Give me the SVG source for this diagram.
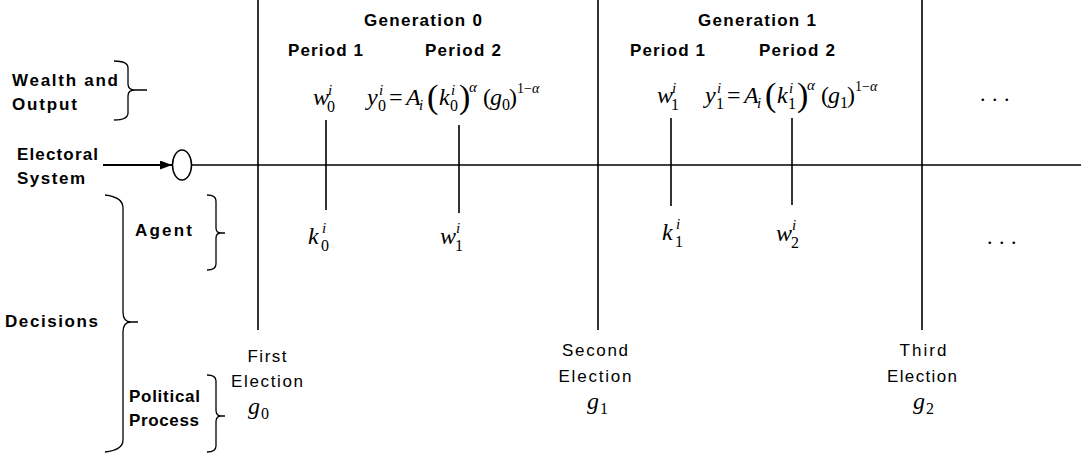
<svg xmlns="http://www.w3.org/2000/svg" width="1081" height="456" viewBox="0 0 1081 456">
<style>
.lab{font-family:"Liberation Sans",Arial,sans-serif;font-weight:bold;font-size:17px;fill:#000}
.reg{font-family:"Liberation Sans",Arial,sans-serif;font-size:17px;fill:#000}
.m{font-family:"Liberation Serif","Times New Roman",serif;font-style:italic;font-size:24px;fill:#000}
.mr{font-family:"Liberation Serif","Times New Roman",serif;font-size:24px;fill:#000}
.s{font-family:"Liberation Serif","Times New Roman",serif;font-style:italic;font-size:15px;fill:#000}
.sr{font-family:"Liberation Serif","Times New Roman",serif;font-size:16px;fill:#000}
.sp{font-family:"Liberation Serif","Times New Roman",serif;font-size:14px;fill:#000}
.big{font-family:"Liberation Serif","Times New Roman",serif;font-size:34px;fill:#000}
.ln{stroke:#000;stroke-width:1.6;fill:none}
.hl{stroke:#000;stroke-width:1.3;fill:none}
.br{stroke:#000;stroke-width:1.3;fill:none}
.dots{font-family:"Liberation Serif","Times New Roman",serif;font-size:22px;letter-spacing:6.5px;fill:#000}
</style>
<defs>
<marker id="ah" markerWidth="12" markerHeight="9" refX="12" refY="4.5" orient="auto" markerUnits="userSpaceOnUse">
<path d="M0,0 L12,4.5 L0,9 Z" fill="#000"/>
</marker>
</defs>

<g id="connectors">
<line class="ln" x1="258" y1="0" x2="258" y2="330"/>
<line class="ln" x1="598" y1="0" x2="598" y2="330"/>
<line class="ln" x1="922" y1="0" x2="922" y2="330"/>
<line class="hl" x1="191.5" y1="165" x2="1081" y2="165"/>
<line class="ln" x1="326" y1="120" x2="326" y2="210"/>
<line class="ln" x1="459" y1="125" x2="459" y2="213"/>
<line class="ln" x1="671" y1="118" x2="671" y2="206"/>
<line class="ln" x1="792" y1="118" x2="792" y2="205"/>
<line stroke="#000" stroke-width="2" x1="103" y1="165" x2="172" y2="165" marker-end="url(#ah)"/>
</g>

<g id="electoral-node">
<ellipse cx="182" cy="165" rx="9.5" ry="15" fill="#fff" stroke="#000" stroke-width="1.5"/>
</g>

<g id="headers">
<text class="lab" x="423" y="26" text-anchor="middle" textLength="118" lengthAdjust="spacing">Generation 0</text>
<text class="lab" x="757" y="26" text-anchor="middle" textLength="118" lengthAdjust="spacing">Generation 1</text>
<text class="lab" x="288" y="56" textLength="75" lengthAdjust="spacing">Period 1</text>
<text class="lab" x="425" y="56" textLength="76" lengthAdjust="spacing">Period 2</text>
<text class="lab" x="630" y="56" textLength="75" lengthAdjust="spacing">Period 1</text>
<text class="lab" x="759" y="56" textLength="76" lengthAdjust="spacing">Period 2</text>
</g>

<g id="wealth-label">
<text class="lab" x="12" y="86" textLength="106" lengthAdjust="spacing">Wealth and</text>
<text class="lab" x="12" y="110" textLength="65" lengthAdjust="spacing">Output</text>
<path class="br" d="M114,61 Q128,61 128,68 L128,84 Q128,90 135,90 L147,90 M135,90 Q128,90 128,96 L128,113 Q128,120 114,120"/>
</g>

<g id="electoral-label">
<text class="lab" x="17" y="160" textLength="81" lengthAdjust="spacing">Electoral</text>
<text class="lab" x="17" y="184" textLength="68" lengthAdjust="spacing">System</text>
</g>

<g id="decisions-label">
<text class="lab" x="5" y="327" textLength="93" lengthAdjust="spacing">Decisions</text>
<path class="br" d="M105,195 Q123,197 123,208 L123,312 Q123,322 131,322 L138,322 M131,322 Q123,322 123,332 L123,440 Q123,450 105,452"/>
</g>

<g id="agent-label">
<text class="lab" x="135" y="236" textLength="57" lengthAdjust="spacing">Agent</text>
<path class="br" d="M207,195 Q216,195 216,201 L216,228 Q216,233 221,233 L225,233 M221,233 Q216,233 216,238 L216,264 Q216,270 207,270"/>
</g>

<g id="political-label">
<text class="lab" x="129" y="402" textLength="71" lengthAdjust="spacing">Political</text>
<text class="lab" x="129" y="426" textLength="70" lengthAdjust="spacing">Process</text>
<path class="br" d="M207,375 Q216,375 216,381 L216,410 Q216,416 221,416 L225,416 M221,416 Q216,416 216,422 L216,446 Q216,452 207,452"/>
</g>

<g id="w0">
<text class="m" x="313" y="105">w</text>
<text class="s" x="328" y="95">i</text>
<text class="sr" x="327" y="112">0</text>
</g>

<g id="y0-formula" transform="translate(367,105)">
<text class="m" x="0" y="0">y</text>
<text class="s" x="12" y="-10">i</text>
<text class="sr" x="11" y="6">0</text>
<text class="mr" x="22" y="0">=</text>
<text class="m" x="39" y="0">A</text>
<text class="s" x="52" y="5">i</text>
<text class="big" x="60" y="3">(</text>
<text class="m" x="72" y="0">k</text>
<text class="s" x="84" y="-10">i</text>
<text class="sr" x="83" y="6">0</text>
<text class="big" x="92" y="3">)</text>
<text class="s" x="102" y="-13">α</text>
<text class="mr" x="116" y="0">(</text>
<text class="m" x="123" y="0">g</text>
<text class="sr" x="135" y="5">0</text>
<text class="mr" x="142" y="0">)</text>
<text class="sp" x="150" y="-12">1−<tspan font-style="italic">α</tspan></text>
</g>

<g id="w1">
<text class="m" x="657" y="103">w</text>
<text class="s" x="672" y="93">i</text>
<text class="sr" x="671" y="110">1</text>
</g>

<g id="y1-formula" transform="translate(705,103)">
<text class="m" x="0" y="0">y</text>
<text class="s" x="12" y="-10">i</text>
<text class="sr" x="11" y="6">1</text>
<text class="mr" x="22" y="0">=</text>
<text class="m" x="39" y="0">A</text>
<text class="s" x="52" y="5">i</text>
<text class="big" x="60" y="3">(</text>
<text class="m" x="72" y="0">k</text>
<text class="s" x="84" y="-10">i</text>
<text class="sr" x="83" y="6">1</text>
<text class="big" x="92" y="3">)</text>
<text class="s" x="102" y="-13">α</text>
<text class="mr" x="116" y="0">(</text>
<text class="m" x="123" y="0">g</text>
<text class="sr" x="135" y="5">1</text>
<text class="mr" x="142" y="0">)</text>
<text class="sp" x="150" y="-12">1−<tspan font-style="italic">α</tspan></text>
</g>

<g id="dots-top"><text class="dots" x="980" y="101">...</text></g>
<g id="dots-bottom"><text class="dots" x="987" y="244">...</text></g>

<g id="k0">
<text class="m" x="308" y="244">k</text>
<text class="s" x="322" y="233">i</text>
<text class="sr" x="321" y="251">0</text>
</g>
<g id="w1-agent">
<text class="m" x="440" y="244">w</text>
<text class="s" x="456" y="233">i</text>
<text class="sr" x="455" y="251">1</text>
</g>
<g id="k1">
<text class="m" x="662" y="240">k</text>
<text class="s" x="676" y="229">i</text>
<text class="sr" x="675" y="247">1</text>
</g>
<g id="w2">
<text class="m" x="776" y="241">w</text>
<text class="s" x="792" y="230">i</text>
<text class="sr" x="791" y="248">2</text>
</g>

<g id="first-election">
<text class="reg" x="267" y="362" text-anchor="middle" textLength="39" lengthAdjust="spacing">First</text>
<text class="reg" x="267" y="387" text-anchor="middle" textLength="72" lengthAdjust="spacing">Election</text>
<text class="m" x="248" y="414">g</text>
<text class="sr" x="261" y="419">0</text>
</g>
<g id="second-election">
<text class="reg" x="595" y="356" text-anchor="middle" textLength="66" lengthAdjust="spacing">Second</text>
<text class="reg" x="595" y="382" text-anchor="middle" textLength="73" lengthAdjust="spacing">Election</text>
<text class="m" x="587" y="409">g</text>
<text class="sr" x="600" y="414">1</text>
</g>
<g id="third-election">
<text class="reg" x="923" y="356" text-anchor="middle" textLength="47" lengthAdjust="spacing">Third</text>
<text class="reg" x="922" y="382" text-anchor="middle" textLength="70" lengthAdjust="spacing">Election</text>
<text class="m" x="913" y="409">g</text>
<text class="sr" x="926" y="414">2</text>
</g>
</svg>
